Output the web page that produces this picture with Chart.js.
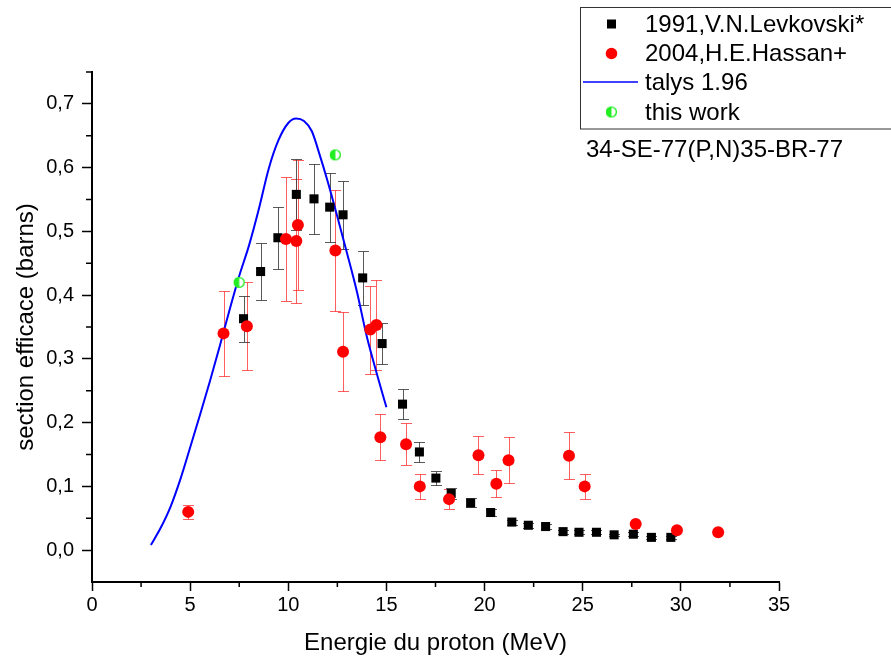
<!DOCTYPE html>
<html>
<head>
<meta charset="utf-8">
<script src="https://cdn.jsdelivr.net/npm/chart.js@4.4.1/dist/chart.umd.min.js"></script>
<style>
  html, body { margin: 0; padding: 0; background: #fff; }
  #wrap { position: relative; width: 891px; height: 662px; }
</style>
</head>
<body>
<div id="wrap"><canvas id="c" width="891" height="662"></canvas></div>
<script>
// 1991, V.N. Levkovski
const levEnergy = [7.72, 8.59, 9.47, 10.41, 11.31, 12.11, 12.79, 13.79, 14.78, 15.82, 16.68, 17.52, 18.30, 19.29, 20.31, 21.39, 22.23, 23.11, 24.00, 24.81, 25.70, 26.60, 27.58, 28.50, 29.49];
const levSigma  = [0.363, 0.437, 0.490, 0.558, 0.551, 0.538, 0.526, 0.427, 0.324, 0.229, 0.154, 0.113, 0.089, 0.074, 0.059, 0.044, 0.039, 0.037, 0.029, 0.028, 0.028, 0.024, 0.025, 0.020, 0.020];
const levError  = [0.036, 0.044, 0.049, 0.056, 0.055, 0.054, 0.053, 0.043, 0.032, 0.023, 0.015, 0.011, 0.009, 0.007, 0.006, 0.004, 0.004, 0.004, 0.003, 0.003, 0.003, 0.002, 0.003, 0.002, 0.002];

// 2004, H.E. Hassan
const hasEnergy = [4.90, 6.70, 7.89, 9.88, 10.41, 10.49, 12.40, 12.79, 14.18, 14.49, 14.69, 16.00, 16.70, 18.19, 19.69, 20.60, 21.22, 24.30, 25.10, 27.70, 29.80, 31.90];
const hasSigma  = [0.060, 0.340, 0.351, 0.488, 0.485, 0.510, 0.470, 0.311, 0.346, 0.353, 0.177, 0.166, 0.100, 0.080, 0.149, 0.104, 0.141, 0.148, 0.100, 0.041, 0.031, 0.028];
const hasError  = [0.011, 0.067, 0.069, 0.097, 0.097, 0.102, 0.095, 0.062, 0.069, 0.070, 0.036, 0.033, 0.020, 0.016, 0.030, 0.021, 0.036, 0.037, 0.020, 0, 0, 0];

// TALYS 1.96 calculation
const talysEnergy = [3.0, 3.5, 4.0, 4.5, 5.0, 5.5, 6.0, 6.5, 7.0, 7.5, 8.0, 8.5, 9.0, 9.5, 10.0, 10.4, 10.8, 11.2, 11.6, 12.0, 12.5, 13.0, 13.5, 14.0, 14.5, 15.0];
const talysSigma  = [0.008, 0.035, 0.068, 0.111, 0.161, 0.212, 0.264, 0.319, 0.376, 0.430, 0.478, 0.535, 0.598, 0.643, 0.670, 0.677, 0.673, 0.657, 0.620, 0.579, 0.523, 0.465, 0.405, 0.335, 0.278, 0.224];

// This work
const workEnergy = [7.50, 12.40];
const workSigma  = [0.420, 0.620];

// Axis ticks
const xTicks = [0, 5, 10, 15, 20, 25, 30, 35];
const xMinorTicks = [2.5, 7.5, 12.5, 17.5, 22.5, 27.5, 32.5];
const yTicks = [0.0, 0.1, 0.2, 0.3, 0.4, 0.5, 0.6, 0.7];
const yMinorTicks = [0.05, 0.15, 0.25, 0.35, 0.45, 0.55, 0.65, 0.75];

const seriesNames = ['1991,V.N.Levkovski*', '2004,H.E.Hassan+', 'talys 1.96', 'this work'];
const reactionLabel = '34-SE-77(P,N)35-BR-77';

const FONT = '"Liberation Sans", Arial, sans-serif';
const GREEN = '#22ee22';

const toPoints = (xs, ys) => xs.map((x, i) => ({ x: x, y: ys[i] }));

// Half-filled green disc used as marker for "this work"
function halfDisc(r) {
  const s = Math.ceil(2 * r + 3);
  const c = document.createElement('canvas');
  c.width = s; c.height = s;
  const g = c.getContext('2d');
  const m = s / 2;
  g.fillStyle = '#fff';
  g.beginPath(); g.arc(m, m, r, 0, 2 * Math.PI); g.fill();
  g.fillStyle = GREEN;
  g.beginPath(); g.arc(m, m, r, Math.PI / 2, 3 * Math.PI / 2); g.closePath(); g.fill();
  g.strokeStyle = GREEN; g.lineWidth = 1.4;
  g.beginPath(); g.arc(m, m, r - 0.7, 0, 2 * Math.PI); g.stroke();
  return c;
}
const halfMarker = halfDisc(5.6);

// Vertical error bars with caps, drawn under the markers
const errorBars = {
  id: 'errorBars',
  beforeDatasetsDraw(chart) {
    const { ctx, scales: { x, y } } = chart;
    chart.data.datasets.forEach(ds => {
      if (!ds.errors) return;
      ctx.save();
      ctx.strokeStyle = ds.errorColor;
      ctx.lineWidth = 1;
      ds.data.forEach((p, j) => {
        const e = ds.errors[j];
        if (!e) return;
        const px = Math.round(x.getPixelForValue(p.x)) + 0.5;
        const top = Math.round(y.getPixelForValue(p.y + e)) + 0.5;
        const bot = Math.round(y.getPixelForValue(p.y - e)) + 0.5;
        ctx.beginPath();
        ctx.moveTo(px, top); ctx.lineTo(px, bot);
        ctx.moveTo(px - 5.5, top); ctx.lineTo(px + 5.5, top);
        ctx.moveTo(px - 5.5, bot); ctx.lineTo(px + 5.5, bot);
        ctx.stroke();
      });
      ctx.restore();
    });
  }
};

// Short outward minor ticks on both axes
const minorTicks = {
  id: 'minorTicks',
  afterDraw(chart) {
    const { ctx, scales: { x, y }, chartArea } = chart;
    ctx.save();
    ctx.strokeStyle = '#000';
    ctx.lineWidth = 1.5;
    ctx.beginPath();
    xMinorTicks.forEach(v => {
      const px = x.getPixelForValue(v);
      ctx.moveTo(px, chartArea.bottom); ctx.lineTo(px, chartArea.bottom + 5);
    });
    yMinorTicks.forEach(v => {
      const py = y.getPixelForValue(v);
      ctx.moveTo(chartArea.left, py); ctx.lineTo(chartArea.left - 6, py);
    });
    ctx.stroke();
    ctx.restore();
  }
};

// Boxed legend in the upper right, plus the reaction label under it
const boxedLegend = {
  id: 'boxedLegend',
  afterDraw(chart) {
    const ctx = chart.ctx;
    ctx.save();
    ctx.fillStyle = '#fff';
    ctx.fillRect(580.5, 7.5, 320, 121.5);
    ctx.strokeStyle = '#333';
    ctx.lineWidth = 1;
    ctx.strokeRect(580.5, 7.5, 320, 121.5);

    const mx = 611.5;
    const rows = [24, 53.5, 82, 112];
    // square
    ctx.fillStyle = '#000';
    ctx.fillRect(mx - 4.5, rows[0] - 4.5, 9, 9);
    // circle
    ctx.fillStyle = '#ff0000';
    ctx.beginPath(); ctx.arc(mx, rows[1], 5.8, 0, 2 * Math.PI); ctx.fill();
    // line
    ctx.strokeStyle = '#0000ff';
    ctx.lineWidth = 1.5;
    ctx.beginPath(); ctx.moveTo(583, rows[2]); ctx.lineTo(638, rows[2]); ctx.stroke();
    // half disc
    ctx.drawImage(halfMarker, mx - halfMarker.width / 2, rows[3] - halfMarker.height / 2);

    ctx.fillStyle = '#000';
    ctx.font = '24px ' + FONT;
    ctx.textBaseline = 'middle';
    ctx.textAlign = 'left';
    seriesNames.forEach((t, i) => ctx.fillText(t, 645, rows[i] + 1));

    ctx.font = '24px ' + FONT;
    ctx.fillText(reactionLabel, 586, 150);
    ctx.restore();
  }
};

const commaLabel = v => v.toFixed(1).replace('.', ',');

new Chart(document.getElementById('c'), {
  type: 'scatter',
  data: {
    datasets: [
      {
        label: seriesNames[3],
        data: toPoints(workEnergy, workSigma),
        pointStyle: halfMarker,
        order: 0
      },
      {
        label: seriesNames[1],
        data: toPoints(hasEnergy, hasSigma),
        errors: hasError,
        errorColor: 'rgba(255,40,40,0.75)',
        pointStyle: 'circle',
        pointRadius: 6,
        backgroundColor: '#ff0000',
        borderColor: '#ff0000',
        borderWidth: 0,
        order: 1
      },
      {
        label: seriesNames[0],
        data: toPoints(levEnergy, levSigma),
        errors: levError,
        errorColor: 'rgba(60,60,60,0.85)',
        pointStyle: 'rect',
        pointRadius: 6.4,
        backgroundColor: '#000',
        borderColor: '#000',
        borderWidth: 0,
        order: 2
      },
      {
        type: 'line',
        label: seriesNames[2],
        data: toPoints(talysEnergy, talysSigma),
        borderColor: '#0000ff',
        borderWidth: 2,
        pointRadius: 0,
        fill: false,
        showLine: true,
        cubicInterpolationMode: 'monotone',
        order: 3
      }
    ]
  },
  options: {
    responsive: false,
    animation: false,
    devicePixelRatio: 1,
    layout: { padding: { left: 0, top: 72, right: 112, bottom: 0 } },
    plugins: {
      legend: { display: false },
      tooltip: { enabled: false }
    },
    scales: {
      x: {
        type: 'linear',
        min: 0, max: 35,
        afterBuildTicks: s => { s.ticks = xTicks.map(v => ({ value: v })); },
        afterFit: s => { s.height = 80; },
        ticks: {
          callback: v => String(v),
          font: { family: FONT, size: 20 },
          color: '#000',
          padding: 2,
          maxRotation: 0,
          autoSkip: false
        },
        grid: { display: true, drawOnChartArea: false, drawTicks: true, tickLength: 9, tickColor: '#000', tickWidth: 1.5 },
        border: { display: true, color: '#000', width: 2 },
        title: {
          display: true,
          text: 'Energie du proton (MeV)',
          font: { family: FONT, size: 24 },
          color: '#000',
          padding: { top: 0, bottom: 4 }
        }
      },
      y: {
        type: 'linear',
        min: -0.05, max: 0.75,
        afterBuildTicks: s => { s.ticks = yTicks.map(v => ({ value: v })); },
        afterFit: s => { s.width = 92; },
        ticks: {
          callback: v => commaLabel(v),
          font: { family: FONT, size: 20 },
          color: '#000',
          padding: 8,
          autoSkip: false
        },
        grid: { display: true, drawOnChartArea: false, drawTicks: true, tickLength: 10, tickColor: '#000', tickWidth: 1.5 },
        border: { display: true, color: '#000', width: 2 },
        title: {
          display: true,
          text: 'section efficace (barns)',
          font: { family: FONT, size: 24 },
          color: '#000',
          padding: { top: 12, bottom: 0 }
        }
      }
    }
  },
  plugins: [errorBars, minorTicks, boxedLegend]
});
</script>
</body>
</html>
